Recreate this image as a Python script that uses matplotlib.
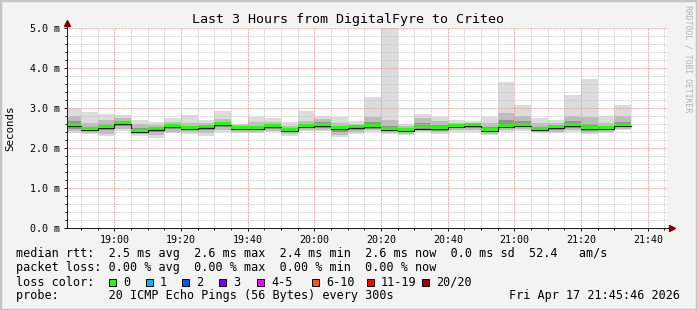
import numpy as np
import matplotlib
matplotlib.use("Agg")
import matplotlib.pyplot as plt
from matplotlib.patches import Rectangle
from matplotlib.ticker import MultipleLocator, FuncFormatter

W, H = 697, 310
MONO = "DejaVu Sans Mono"

# graph covers 18:45:46 .. 21:45:46, steps of 5 min (first step cut at start)
t_start = 18 * 60 + 45 + 46 / 60
t_end = t_start + 180
step_edges = np.concatenate([[t_start], np.arange(18 * 60 + 50, 21 * 60 + 36, 5)])

# rtt per step in ms (smoke bands)
rtt_max = [3.00, 2.91, 2.84, 2.83, 2.70, 2.64, 2.74, 2.83, 2.69, 2.92,
           2.61, 2.78, 2.74, 2.64, 2.93, 2.80, 2.77, 2.68, 3.28, 5.00,
           2.60, 2.85, 2.78, 2.70, 2.67, 2.78, 3.66, 3.08, 2.76, 2.70,
           3.33, 3.73, 2.80, 3.08]
rtt_p90 = [2.81, 2.62, 2.70, 2.74, 2.60, 2.58, 2.66, 2.62, 2.62, 2.72,
           2.57, 2.65, 2.65, 2.55, 2.68, 2.72, 2.62, 2.60, 2.78, 2.70,
           2.55, 2.76, 2.68, 2.62, 2.62, 2.62, 2.88, 2.80, 2.62, 2.62,
           2.80, 2.78, 2.62, 2.80]
rtt_p75 = [2.68, 2.53, 2.60, 2.67, 2.50, 2.52, 2.59, 2.55, 2.57, 2.64,
           2.52, 2.56, 2.59, 2.48, 2.60, 2.64, 2.55, 2.56, 2.65, 2.56,
           2.49, 2.62, 2.58, 2.57, 2.59, 2.52, 2.70, 2.68, 2.53, 2.56,
           2.68, 2.60, 2.54, 2.66]
rtt_med = [2.56, 2.46, 2.51, 2.61, 2.41, 2.47, 2.53, 2.48, 2.52, 2.58,
           2.48, 2.48, 2.53, 2.43, 2.53, 2.56, 2.48, 2.52, 2.53, 2.46,
           2.43, 2.49, 2.48, 2.53, 2.56, 2.43, 2.53, 2.56, 2.46, 2.51,
           2.56, 2.48, 2.48, 2.56]
rtt_p25 = [2.48, 2.42, 2.44, 2.55, 2.37, 2.40, 2.47, 2.44, 2.45, 2.52,
           2.44, 2.44, 2.47, 2.39, 2.49, 2.51, 2.40, 2.46, 2.48, 2.42,
           2.40, 2.45, 2.43, 2.49, 2.50, 2.40, 2.49, 2.52, 2.43, 2.46,
           2.51, 2.43, 2.44, 2.52]
rtt_p10 = [2.42, 2.38, 2.36, 2.48, 2.34, 2.32, 2.41, 2.40, 2.38, 2.45,
           2.40, 2.41, 2.43, 2.35, 2.45, 2.46, 2.32, 2.40, 2.44, 2.38,
           2.36, 2.42, 2.39, 2.44, 2.44, 2.36, 2.45, 2.47, 2.40, 2.41,
           2.46, 2.38, 2.40, 2.48]
rtt_min = [2.37, 2.35, 2.31, 2.43, 2.31, 2.24, 2.37, 2.35, 2.31, 2.39,
           2.37, 2.38, 2.39, 2.31, 2.42, 2.42, 2.27, 2.34, 2.41, 2.35,
           2.33, 2.39, 2.35, 2.41, 2.39, 2.33, 2.41, 2.43, 2.38, 2.37,
           2.41, 2.34, 2.37, 2.44]

loss_labels = ["0", "1", "2", "3", "4-5", "6-10", "11-19", "20/20"]
loss_colors = ["#22ff00", "#00b8ff", "#0059ff", "#7e00ff", "#ff00ff",
               "#ff5500", "#ff0000", "#a10000"]

legend_lines = [
    "median rtt:  2.5 ms avg  2.6 ms max  2.4 ms min  2.6 ms now  0.0 ms sd  52.4   am/s",
    "packet loss: 0.00 % avg  0.00 % max  0.00 % min  0.00 % now",
]
probe_text = "probe:       20 ICMP Echo Pings (56 Bytes) every 300s"
stamp_text = "Fri Apr 17 21:45:46 2026"


def st(a):
    a = np.asarray(a, dtype=float)
    return np.append(a, a[-1])


def fx(x):
    return x / W


def fy(y):
    return 1 - y / H


fig = plt.figure(figsize=(W / 100, H / 100), dpi=100, facecolor="#f3f3f3")
ax = fig.add_axes([fx(67), fy(228), 600 / W, 200 / H])
ax.set_facecolor("white")

# smoke
ax.fill_between(step_edges, st(rtt_min), st(rtt_max), step="post", color="#dcdcdc", lw=0, zorder=1)
ax.fill_between(step_edges, st(rtt_p10), st(rtt_p90), step="post", color="#bdbdbd", lw=0, zorder=1)
ax.fill_between(step_edges, st(rtt_p25), st(rtt_p75), step="post", color="#929292", lw=0, zorder=1)

# median: dark line + green loss band (1 px = 0.025 ms)
px = 0.025
ax.step(step_edges, st(rtt_med) - 0.5 * px, where="post", color="#202020", lw=0.8, zorder=4)
ax.fill_between(step_edges, st(rtt_med), st(rtt_med) + 2.4 * px, step="post",
                color=loss_colors[0], lw=0, zorder=5)

ax.set_xlim(t_start, t_end)
ax.set_ylim(0, 5.0)
ax.xaxis.set_major_locator(MultipleLocator(20))
ax.xaxis.set_minor_locator(MultipleLocator(5))
ax.yaxis.set_major_locator(MultipleLocator(1.0))
ax.yaxis.set_minor_locator(MultipleLocator(0.2))
ax.xaxis.set_major_formatter(FuncFormatter(lambda m, p: "%02d:%02d" % (int(m // 60), int(round(m % 60)))))
ax.yaxis.set_major_formatter(FuncFormatter(lambda v, p: "%.1f m" % v))

ax.set_axisbelow(False)
ax.grid(which="minor", color="#c8c8c8", lw=0.72, linestyle=(0, (0.72, 0.72)))
ax.grid(which="major", color="#f09090", lw=0.72, linestyle=(0, (0.72, 0.72)))

for s in ["top", "right"]:
    ax.spines[s].set_visible(False)
for s in ["left", "bottom"]:
    ax.spines[s].set_color("#202020")
    ax.spines[s].set_linewidth(0.72)
    ax.spines[s].set_zorder(6)

ax.tick_params(which="both", direction="out", color="#202020", width=0.72)
ax.tick_params(which="major", length=2.2, pad=2.5, labelsize=7.2, labelcolor="black")
ax.tick_params(which="minor", length=1.4)
for lab in ax.get_xticklabels() + ax.get_yticklabels():
    lab.set_family(MONO)

# axis arrows
ax.plot([1, 1 + 5 / 600], [0, 0], transform=ax.transAxes, color="#202020", lw=0.72, clip_on=False)
ax.plot([0, 0], [1, 1 + 5 / 200], transform=ax.transAxes, color="#202020", lw=0.72, clip_on=False)
ax.plot([1 + 5 / 600], [0], transform=ax.transAxes, marker=">", ms=5, color="#800000",
        mec="#800000", clip_on=False, zorder=7)
ax.plot([0], [1 + 5 / 200], transform=ax.transAxes, marker="^", ms=5, color="#800000",
        mec="#800000", clip_on=False, zorder=7)

fig.text(fx(10), fy(128), "Seconds", rotation=90, ha="center", va="center",
         family=MONO, fontsize=7.8)
fig.text(fx(348), fy(20), "Last 3 Hours from DigitalFyre to Criteo", ha="center", va="center",
         family=MONO, fontsize=9.6)
fig.text(fx(688), fy(5), "RRDTOOL / TOBI OETIKER", rotation=270, ha="center", va="top",
         family=MONO, fontsize=5.9, color="#b4b4b4")

# legend block
for i, line in enumerate(legend_lines):
    fig.text(fx(16), fy(254 + 14 * i), line, ha="left", va="center", family=MONO, fontsize=8.5)
fig.text(fx(16), fy(282), "loss color:", ha="left", va="center", family=MONO, fontsize=8.5)
box_x = [109, 146, 182, 219, 257, 312, 367, 422]
for bx, lab, col in zip(box_x, loss_labels, loss_colors):
    fig.patches.append(Rectangle((fx(bx), fy(285.5)), 7 / W, 7 / H, transform=fig.transFigure,
                                 facecolor=col, edgecolor="black", lw=0.7))
    fig.text(fx(bx + 14), fy(282), lab, ha="left", va="center", family=MONO, fontsize=8.5)
fig.text(fx(16), fy(296), probe_text, ha="left", va="center", family=MONO, fontsize=8.5)
fig.text(fx(680), fy(296), stamp_text, ha="right", va="center", family=MONO, fontsize=8.5)

# frame
fig.patches.append(Rectangle((0, 0), 1, 1, transform=fig.transFigure, fill=False,
                             edgecolor="#c4c4c4", lw=2.5))

fig.savefig("out.png", dpi=100, facecolor=fig.get_facecolor())
